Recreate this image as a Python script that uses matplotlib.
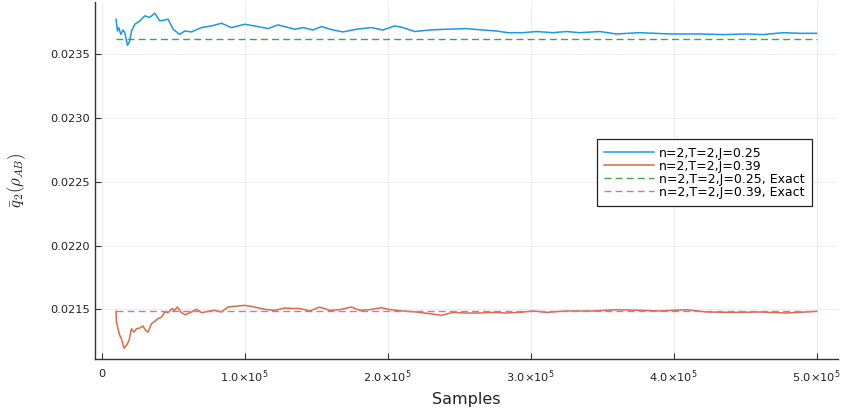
import matplotlib
matplotlib.use("Agg")
from matplotlib import pyplot as plt
from matplotlib.ticker import FixedLocator

# running estimate, n=2, T=2, J=0.25
samples_a = [10000, 11000, 11900, 13300, 14900, 16100, 18000, 19600, 20800, 23100,
             26600, 30100, 33600, 37100, 40600, 44100, 46400, 49900, 54500, 58000,
             62700, 69700, 76700, 83700, 90700, 100000, 109300, 116300, 123300, 135000,
             140800, 147800, 153600, 161700, 168700, 178100, 188600, 196700, 204900, 210700,
             218900, 229400, 241100, 255000, 266600, 276000, 284100, 294600, 304000, 315600,
             325000, 334300, 348300, 359900, 376200, 397200, 418200, 434500, 450800, 462500,
             476400, 488100, 500000]
q2_a = [0.023776, 0.023683, 0.023710, 0.023657, 0.023691, 0.023670, 0.023571, 0.023605, 0.023683, 0.023736,
        0.023762, 0.023802, 0.023789, 0.023823, 0.023762, 0.023770, 0.023776, 0.023697, 0.023657, 0.023683,
        0.023676, 0.023710, 0.023723, 0.023744, 0.023710, 0.023736, 0.023718, 0.023702, 0.023731, 0.023697,
        0.023710, 0.023691, 0.023718, 0.023691, 0.023676, 0.023697, 0.023710, 0.023691, 0.023723, 0.023710,
        0.023679, 0.023691, 0.023697, 0.023702, 0.023691, 0.023683, 0.023670, 0.023670, 0.023679, 0.023670,
        0.023679, 0.023670, 0.023679, 0.023660, 0.023670, 0.023660, 0.023660, 0.023655, 0.023660, 0.023655,
        0.023670, 0.023665, 0.023665]

# running estimate, n=2, T=2, J=0.39
samples_b = [10000, 10300, 11400, 12600, 13800, 15600, 17300, 19100, 20800, 22600,
             24300, 26600, 28900, 30600, 32400, 34800, 37100, 39400, 41800, 44100,
             46400, 49200, 51000, 52900, 55700, 58500, 62700, 66200, 69700, 74300,
             79000, 83700, 88300, 95300, 100000, 107000, 114000, 121000, 128000, 135000,
             138500, 145500, 152400, 159400, 166400, 174600, 180400, 187400, 195600, 201400,
             210700, 220100, 229400, 237600, 245700, 255000, 264300, 273600, 283000, 292300,
             301600, 311000, 325000, 343600, 359900, 376200, 390200, 408900, 422900, 441500,
             460200, 478800, 500000]
q2_b = [0.021484, 0.021400, 0.021348, 0.021295, 0.021269, 0.021195, 0.021217, 0.021256, 0.021348, 0.021321,
        0.021348, 0.021353, 0.021369, 0.021335, 0.021321, 0.021387, 0.021406, 0.021427, 0.021439, 0.021479,
        0.021474, 0.021506, 0.021492, 0.021518, 0.021474, 0.021458, 0.021479, 0.021500, 0.021474, 0.021484,
        0.021492, 0.021479, 0.021518, 0.021526, 0.021531, 0.021518, 0.021500, 0.021492, 0.021510, 0.021506,
        0.021506, 0.021487, 0.021518, 0.021492, 0.021497, 0.021518, 0.021492, 0.021497, 0.021513, 0.021497,
        0.021487, 0.021479, 0.021466, 0.021453, 0.021476, 0.021471, 0.021471, 0.021476, 0.021471, 0.021476,
        0.021487, 0.021476, 0.021487, 0.021487, 0.021497, 0.021492, 0.021487, 0.021497, 0.021479, 0.021476,
        0.021479, 0.021471, 0.021484]

exact_a = 0.023622
exact_b = 0.021488
exact_x = [10000, 500000]

labels = ["n=2,T=2,J=0.25", "n=2,T=2,J=0.39",
          "n=2,T=2,J=0.25, Exact", "n=2,T=2,J=0.39, Exact"]
xticks = [0, 100000, 200000, 300000, 400000, 500000]
xticklabels = ["0", "1.0×10$^5$", "2.0×10$^5$", "3.0×10$^5$", "4.0×10$^5$", "5.0×10$^5$"]
yticks = [0.0215, 0.0220, 0.0225, 0.0230, 0.0235]

fig = plt.figure(figsize=(8.43, 4.17), dpi=100)
ax = fig.add_axes([0.1127, 0.139, 0.881, 0.856])

ax.plot(samples_a, q2_a, color="#1a98e6", lw=1.1, label=labels[0])
ax.plot(samples_b, q2_b, color="#df6a42", lw=1.1, label=labels[1])
ax.plot(exact_x, [exact_a, exact_a], color="#3EA44E", lw=1.0, dashes=(5, 3), label=labels[2])
ax.plot(exact_x, [exact_b, exact_b], color="#C371D2", lw=1.0, dashes=(5, 3), label=labels[3])

ax.set_xlim(-4700, 514700)
ax.set_ylim(0.02111, 0.02391)
ax.xaxis.set_major_locator(FixedLocator(xticks))
ax.set_xticklabels(xticklabels)
ax.yaxis.set_major_locator(FixedLocator(yticks))
ax.set_yticklabels(["%.4f" % v for v in yticks])

ax.grid(True, color="#ececec", lw=0.7)
ax.set_axisbelow(True)
for s in ["top", "right"]:
    ax.spines[s].set_visible(False)
for s in ["left", "bottom"]:
    ax.spines[s].set_color("#333333")
    ax.spines[s].set_linewidth(1.0)
ax.tick_params(direction="in", length=4, width=0.8, colors="#333333", labelsize=8.2,
               labelcolor="#222222")
ax.tick_params(axis="x", pad=7)

ax.set_xlabel("Samples", fontsize=11.5, color="#222222", labelpad=5)
ax.set_ylabel(r"$\bar{q}_2(\rho_{AB})$", fontsize=12, color="#222222",
              math_fontfamily="cm", labelpad=16)

leg = ax.legend(loc="upper right", bbox_to_anchor=(0.966, 0.616), borderaxespad=0,
                fontsize=9, labelspacing=0.0, handlelength=4, handletextpad=0.4,
                fancybox=False, framealpha=1, edgecolor="#222222", borderpad=0.6)
leg.get_frame().set_linewidth(0.9)

fig.savefig("out.png", dpi=100)
